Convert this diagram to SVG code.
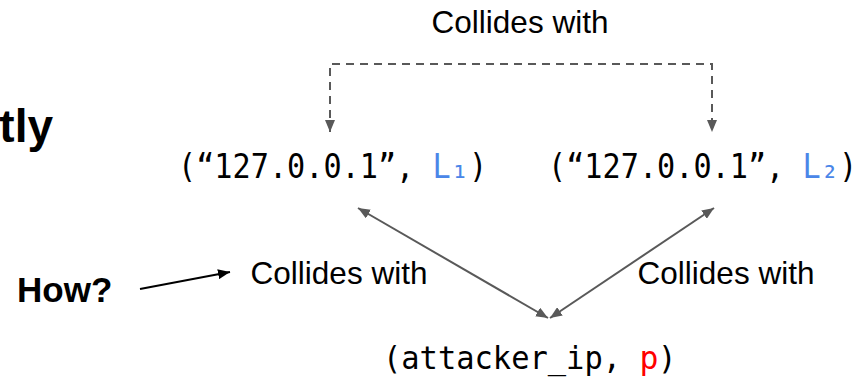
<svg xmlns="http://www.w3.org/2000/svg" width="865" height="380" viewBox="0 0 865 380">
<style>
.lbl{font-family:"Liberation Sans",Arial,sans-serif;font-size:31.5px;fill:#000}
.bold{font-family:"Liberation Sans",Arial,sans-serif;font-weight:bold;fill:#000}
.mono{font-family:"DejaVu Sans Mono","Liberation Mono",monospace;fill:#000;font-size:33px}
.mono2{font-family:"DejaVu Sans Mono","Liberation Mono",monospace;fill:#000;font-size:31.5px}
.blue{fill:#4a86e8}
.red{fill:#ff0000}
.g{fill:none;stroke:#595959;stroke-width:2}
.dash{stroke-dasharray:8 6}
</style>
<defs>
<marker id="ag" viewBox="0 0 12 10" refX="12" refY="5" markerWidth="12" markerHeight="10" markerUnits="userSpaceOnUse" orient="auto-start-reverse">
<path d="M0,0 L12,5 L0,10 Z" fill="#595959"/>
</marker>
<marker id="ab" viewBox="0 0 12 10" refX="12" refY="5" markerWidth="12" markerHeight="10" markerUnits="userSpaceOnUse" orient="auto">
<path d="M0,0 L12,5 L0,10 Z" fill="#000"/>
</marker>
</defs>
<g id="connectors">
<path class="g dash" d="M330,132 V64 H712 V132" marker-start="url(#ag)" marker-end="url(#ag)"/>
<path class="g" d="M358,208 L548,318" marker-start="url(#ag)" marker-end="url(#ag)"/>
<path class="g" d="M714,208 L550,318" marker-start="url(#ag)" marker-end="url(#ag)"/>
<path d="M140,289 L230,272" fill="none" stroke="#000" stroke-width="2" marker-end="url(#ab)"/>
</g>
<g id="label-top"><text class="lbl" x="520" y="33" text-anchor="middle">Collides with</text></g>
<g id="label-left"><text class="lbl" x="339" y="284" text-anchor="middle">Collides with</text></g>
<g id="label-right"><text class="lbl" x="726" y="284" text-anchor="middle">Collides with</text></g>
<g id="title"><text class="bold" x="53" y="142" font-size="46" text-anchor="end">tly</text></g>
<g id="how"><text class="bold" x="17" y="302" font-size="35">How?</text></g>
<g id="tuple1">
<text class="mono" x="178" y="178" textLength="236.3" lengthAdjust="spacingAndGlyphs">(“127.0.0.1”,</text>
<text class="mono blue" x="432.5" y="178" textLength="18.2" lengthAdjust="spacingAndGlyphs">L</text>
<text class="mono blue" x="450.7" y="178" textLength="18.2" lengthAdjust="spacingAndGlyphs">₁</text>
<text class="mono" x="468.9" y="178" textLength="18.2" lengthAdjust="spacingAndGlyphs">)</text>
</g>
<g id="tuple2">
<text class="mono" x="548" y="178" textLength="236.3" lengthAdjust="spacingAndGlyphs">(“127.0.0.1”,</text>
<text class="mono blue" x="802.5" y="178" textLength="18.2" lengthAdjust="spacingAndGlyphs">L</text>
<text class="mono blue" x="820.7" y="178" textLength="18.2" lengthAdjust="spacingAndGlyphs">₂</text>
<text class="mono" x="838.9" y="178" textLength="18.2" lengthAdjust="spacingAndGlyphs">)</text>
</g>
<g id="attacker">
<text class="mono2" x="383" y="369" textLength="238" lengthAdjust="spacingAndGlyphs">(attacker_ip,</text>
<text class="mono2 red" x="639.4" y="369">p</text>
<text class="mono2" x="657.7" y="369">)</text>
</g>
</svg>
